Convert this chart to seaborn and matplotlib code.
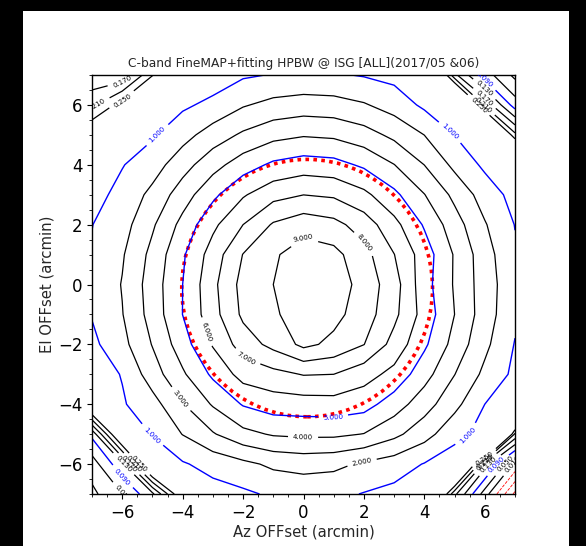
import numpy as np
import matplotlib
matplotlib.use("Agg")
import matplotlib.pyplot as plt
from matplotlib.patches import Ellipse, Rectangle
import seaborn as sns

# ---- data -------------------------------------------------------------
az_offsets = [-7, -6, -5, -4, -3, -2, -1, 0, 1, 2, 3, 4, 5, 6, 7]
el_offsets = [-7, -6, -5, -4, -3, -2, -1, 0, 1, 2, 3, 4, 5, 6, 7]

# beam map values, rows from El=-7 (bottom) to El=+7 (top), columns Az=-7..+7
beam_map = [
    [0.00, 0.05, 0.12, 0.30, 0.60, 0.82, 1.15, 1.30, 1.25, 0.95, 0.70, 0.45, 0.18, 0.03, -0.12],
    [0.03, 0.12, 0.35, 0.90, 1.35, 1.75, 2.20, 2.36, 2.25, 1.85, 1.50, 0.95, 0.45, 0.15, 0.00],
    [0.10, 0.33, 1.05, 2.03, 2.91, 3.71, 4.10, 4.20, 4.20, 3.97, 3.26, 2.40, 1.30, 0.70, 0.20],
    [0.33, 0.90, 1.60, 2.95, 4.10, 5.08, 5.50, 5.55, 5.60, 5.40, 4.50, 3.43, 2.30, 1.00, 0.54],
    [0.50, 1.05, 2.53, 3.85, 5.19, 6.40, 6.70, 7.05, 7.00, 6.40, 5.70, 4.39, 3.02, 1.77, 0.77],
    [0.76, 1.70, 3.05, 4.55, 6.09, 7.48, 8.30, 9.25, 8.75, 8.02, 6.64, 5.18, 3.65, 2.24, 0.95],
    [1.06, 1.96, 3.40, 5.01, 6.63, 8.20, 8.80, 9.70, 9.30, 8.50, 7.25, 5.60, 4.00, 2.50, 1.19],
    [1.12, 2.05, 3.48, 5.00, 6.75, 8.34, 9.00, 9.85, 9.60, 8.60, 7.44, 5.40, 3.90, 2.50, 1.30],
    [1.08, 1.90, 3.29, 4.86, 6.46, 8.03, 8.86, 9.50, 9.30, 8.36, 7.02, 5.51, 3.91, 2.43, 1.13],
    [0.98, 1.60, 2.86, 4.31, 5.77, 7.00, 8.11, 8.60, 8.31, 7.53, 6.31, 4.89, 3.44, 2.08, 0.97],
    [0.65, 1.30, 2.27, 3.52, 4.76, 5.89, 6.67, 6.99, 6.85, 6.25, 5.24, 4.03, 2.75, 1.55, 0.66],
    [0.45, 0.95, 1.54, 2.60, 3.63, 4.52, 5.19, 5.47, 5.35, 4.83, 4.02, 2.99, 1.75, 0.80, 0.45],
    [0.30, 0.45, 0.88, 1.63, 2.47, 3.16, 3.68, 3.91, 3.81, 3.41, 2.76, 1.99, 0.98, 0.45, 0.22],
    [0.20, 0.27, 0.45, 0.83, 1.25, 1.91, 2.30, 2.46, 2.39, 2.09, 1.58, 0.80, 0.45, 0.20, 0.07],
    [0.14, 0.14, 0.245, 0.38, 0.45, 0.87, 1.05, 1.15, 1.10, 0.93, 0.70, 0.45, 0.18, 0.07, 0.00],
]

main_levels = [2, 3, 4, 6, 7, 8, 9]
low_levels = [0.01, 0.05, 0.13, 0.17, 0.21, 0.25]
blue_main_levels = [1, 5]
blue_low_levels = [0.09]
red_levels = [-0.11, -0.07, -0.03]

# where the contour labels sit (Az, El)
main_label_pos = [(-0.02, 1.69), (1.97, 1.35), (-2.0, -2.76), (-3.03, -1.52),
                  (-0.02, -5.2), (-4.02, -3.8), (1.94, -5.97)]
blue_label_pos = [(-5.02, 5.17), (4.92, 5.17), (-5.08, -5.1), (5.38, -4.97),
                  (0.98, -4.47)]

# fitted half-power beam (centre and full widths, arcmin)
fit_center = (0.12, -0.12)
fit_hpbw_az = 8.3
fit_hpbw_el = 8.6

title = "C-band FineMAP+fitting HPBW @ ISG [ALL](2017/05 &06)"
xlabel = "Az OFFset (arcmin)"
ylabel = "El OFFset (arcmin)"
major_ticks = [-6, -4, -2, 0, 2, 4, 6]

# ---- plot -------------------------------------------------------------
sns.set_style("ticks")
plt.rcParams['font.family'] = ['DejaVu Sans']
plt.rcParams['xtick.direction'] = 'out'
plt.rcParams['ytick.direction'] = 'out'

W, H = 586, 546
fig = plt.figure(figsize=(W / 100, H / 100), dpi=100, facecolor='black')
bg = Rectangle((23 / W, 0), (569 - 23) / W, (546 - 11) / H,
               transform=fig.transFigure, facecolor='white',
               edgecolor='none', zorder=-10)
fig.patches.append(bg)
ax = fig.add_axes([92 / W, (H - 494) / H, (515 - 92) / W, (494 - 75) / H])
ax.set_zorder(5)
ax.set_facecolor('white')

Z = np.array(beam_map)
kw = dict(linewidths=0.9)
cs_main = ax.contour(az_offsets, el_offsets, Z, levels=main_levels, colors='black', **kw)
cs_low = ax.contour(az_offsets, el_offsets, Z, levels=low_levels, colors='black', **kw)
cs_bmain = ax.contour(az_offsets, el_offsets, Z, levels=blue_main_levels, colors='blue', linewidths=1.0)
cs_blow = ax.contour(az_offsets, el_offsets, Z, levels=blue_low_levels, colors='blue', linewidths=1.0)
cs_red = ax.contour(az_offsets, el_offsets, Z, levels=red_levels, colors='red',
                    linewidths=0.6, linestyles='dashed')

lab = dict(fmt='%.3f', fontsize=5, inline=True)
ax.clabel(cs_main, manual=main_label_pos, **lab)
ax.clabel(cs_bmain, manual=blue_label_pos, **lab)
ax.clabel(cs_low, **lab)
ax.clabel(cs_blow, **lab)
ax.clabel(cs_red, **lab)

ax.add_patch(Ellipse(fit_center, fit_hpbw_az, fit_hpbw_el, fill=False,
                     edgecolor='red', linewidth=2.6, linestyle=(0, (1, 1.2))))

ax.set_xlim(-7, 7)
ax.set_ylim(-7, 7)
ax.set_xticks(major_ticks)
ax.set_yticks(major_ticks)
ax.minorticks_on()
ax.tick_params(which='major', length=3.5, width=0.8, labelsize=12, colors='black')
ax.tick_params(which='minor', length=2, width=0.6, colors='black')
for s in ax.spines.values():
    s.set_color('black')
    s.set_linewidth(1.0)

ax.set_title(title, fontsize=8.8, pad=6)
ax.set_xlabel(xlabel, fontsize=10.7, labelpad=2)
ax.set_ylabel(ylabel, fontsize=10.7, labelpad=2)

fig.savefig("out.png", dpi=100, facecolor=fig.get_facecolor())
